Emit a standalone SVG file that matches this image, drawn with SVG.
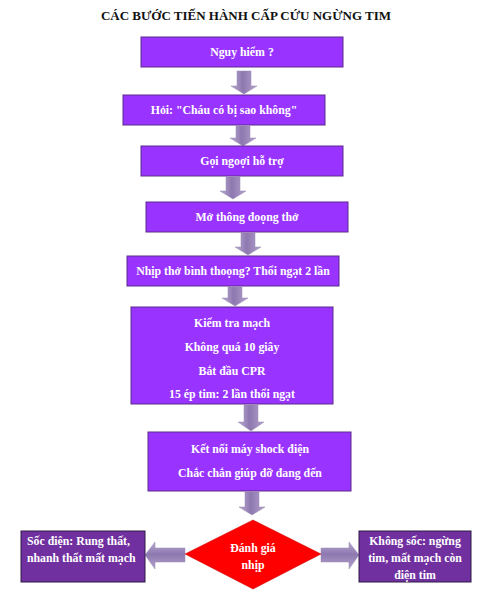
<svg xmlns="http://www.w3.org/2000/svg" width="490" height="600" viewBox="0 0 490 600">
<defs>
<linearGradient id="gv" x1="0" y1="0" x2="1" y2="0">
<stop offset="0" stop-color="#b9abd0"/><stop offset="0.45" stop-color="#8e78b0"/><stop offset="1" stop-color="#b3a3cb"/>
</linearGradient>
<linearGradient id="gh" x1="0" y1="0" x2="0" y2="1">
<stop offset="0" stop-color="#b9abd0"/><stop offset="0.45" stop-color="#8e78b0"/><stop offset="1" stop-color="#b3a3cb"/>
</linearGradient>
<style>
.box{fill:#9933ff;stroke:#5b2a8c;stroke-width:1}
.side{fill:#7030a0;stroke:#2e1a45;stroke-width:1}
.t{font-family:"Liberation Serif","Times New Roman",serif;font-weight:bold;font-size:11.8px;fill:#ffffff;text-anchor:middle}
.tl{text-anchor:start}
.title{font-family:"Liberation Serif","Times New Roman",serif;font-weight:bold;font-size:13px;fill:#111;text-anchor:middle}
.av{fill:url(#gv);stroke:#9a8ab5;stroke-width:0.5}
.ah{fill:url(#gh);stroke:#9a8ab5;stroke-width:0.5}
</style>
</defs>
<text class="title" x="246" y="20">CÁC BƯỚC TIẾN HÀNH CẤP CỨU NGỪNG TIM</text>
<g id="connectors">
<polygon class="av" points="237,71 251,71 251,86 257,86 244,94 231,86 237,86"/>
<polygon class="av" points="236,126 250,126 250,138 256,138 243,146 230,138 236,138"/>
<polygon class="av" points="226,177 240,177 240,191 246,191 233,199 220,191 226,191"/>
<polygon class="av" points="241,233 255,233 255,247 261,247 248,255 235,247 241,247"/>
<polygon class="av" points="228,287 242,287 242,298 248,298 235,306 222,298 228,298"/>
<polygon class="av" points="244,405 258,405 258,422 264,422 251,431 238,422 244,422"/>
<polygon class="av" points="245,492 259,492 259,507 265,507 252,515 239,507 245,507"/>
<polygon class="ah" points="185,548 185,562 155,562 155,569 145,555 155,542 155,548"/>
<polygon class="ah" points="321,548 321,562 349,562 349,569 359,555 349,542 349,548"/>
</g>
<g id="n1"><rect class="box" x="141" y="37" width="202" height="30"/><text class="t" x="242" y="56">Nguy hiểm ?</text></g>
<g id="n2"><rect class="box" x="123" y="95" width="202" height="30"/><text class="t" x="224" y="114">Hỏi: "Cháu có bị sao không"</text></g>
<g id="n3"><rect class="box" x="141" y="146" width="202" height="30"/><text class="t" x="242" y="165">Gọi ngoợi hỗ trợ</text></g>
<g id="n4"><rect class="box" x="146" y="202" width="202" height="30"/><text class="t" x="247" y="221">Mở thông đoọng thở</text></g>
<g id="n5"><rect class="box" x="127" y="256" width="212" height="30"/><text class="t" x="233" y="275">Nhịp thở bình thoọng? Thổi ngạt 2 lần</text></g>
<g id="n6"><rect class="box" x="131" y="307" width="202" height="97"/>
<text class="t" x="232" y="327">Kiểm tra mạch</text>
<text class="t" x="232" y="351">Không quá 10 giây</text>
<text class="t" x="232" y="375">Bắt đầu CPR</text>
<text class="t" x="232" y="398">15 ép tim: 2 lần thổi ngạt</text></g>
<g id="n7"><rect class="box" x="148" y="432" width="203" height="59"/>
<text class="t" x="250" y="453">Kết nối máy shock điện</text>
<text class="t" x="250" y="477">Chắc chắn giúp đỡ đang đến</text></g>
<g id="n8"><polygon points="253,520 321,554 253,589 185,554" fill="#ff0000" stroke="#c00000" stroke-width="0.5"/>
<text class="t" x="253" y="552">Đánh giá</text><text class="t" x="253" y="569">nhịp</text></g>
<g id="n9"><rect class="side" x="21" y="531" width="124" height="51"/>
<text class="t tl" x="27" y="545">Sốc điện: Rung thất,</text>
<text class="t tl" x="27" y="562">nhanh thất mất mạch</text></g>
<g id="n10"><rect class="side" x="359" y="531" width="112" height="51"/>
<text class="t" x="415" y="545">Không sốc: ngừng</text>
<text class="t" x="415" y="562">tim, mất mạch còn</text>
<text class="t" x="415" y="579">điện tim</text></g>
</svg>
